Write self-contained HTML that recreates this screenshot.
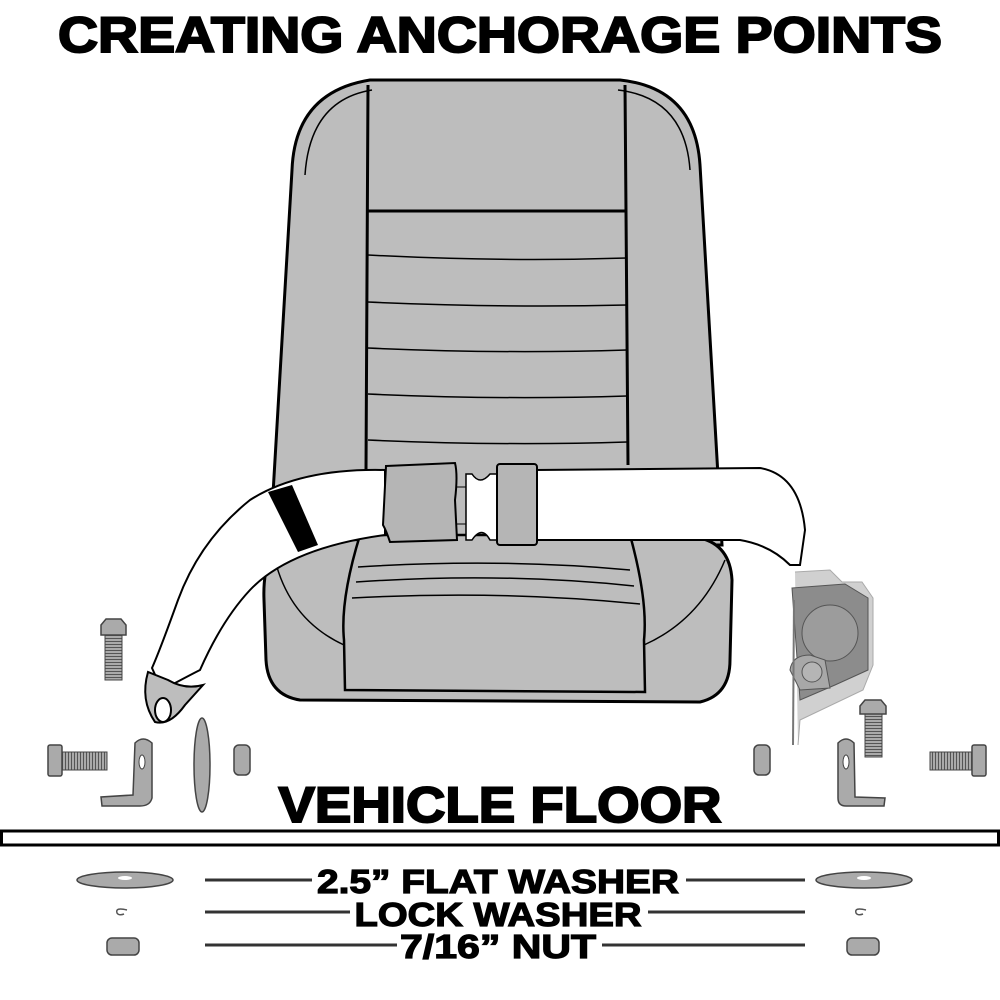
<!DOCTYPE html>
<html><head><style>body{margin:0;background:#fff}svg{display:block}</style></head><body>
<svg width="1000" height="1000" viewBox="0 0 1000 1000" xmlns="http://www.w3.org/2000/svg" font-family="Liberation Sans, sans-serif">
<defs>
<pattern id="thr" width="4" height="3" patternUnits="userSpaceOnUse"><rect width="4" height="3" fill="#aaa"/><rect y="2" width="4" height="1" fill="#555"/></pattern>
<pattern id="thrv" width="3" height="4" patternUnits="userSpaceOnUse"><rect width="3" height="4" fill="#aaa"/><rect x="2" width="1" height="4" fill="#555"/></pattern>
</defs>
<text x="500" y="52" text-anchor="middle" font-size="50" font-weight="bold" stroke="#000" stroke-width="2" textLength="884" lengthAdjust="spacingAndGlyphs">CREATING ANCHORAGE POINTS</text>
<!-- seat back -->
<path d="M292 170 Q295 92 370 80 L620 80 Q695 88 700 165 L722 545 L270 545 Z" fill="#bdbdbd" stroke="#000" stroke-width="3"/>
<path d="M305 175 Q310 100 372 90 M618 90 Q685 98 690 170" fill="none" stroke="#000" stroke-width="1.5"/>
<path d="M368 85 L366 470 M625 85 L628 465" stroke="#000" stroke-width="3"/>
<path d="M368 211 L627 211" stroke="#000" stroke-width="3"/>
<g fill="none" stroke="#000" stroke-width="1.5">
<path d="M368 255 Q500 262 627 258"/><path d="M368 302 Q500 308 627 305"/><path d="M368 348 Q500 354 627 350"/><path d="M368 394 Q500 400 627 396"/><path d="M368 440 Q500 446 627 442"/>
</g>
<!-- cushion -->
<path d="M290 540 Q262 550 264 600 L266 660 Q268 695 300 700 L700 702 Q730 695 730 660 L732 580 Q730 545 700 538 Z" fill="#bdbdbd" stroke="#000" stroke-width="3"/>
<path d="M360 535 Q340 600 344 640 L345 690 L645 692 L644 640 Q648 600 630 535 Z" fill="#bdbdbd" stroke="#000" stroke-width="2.5"/>
<g fill="none" stroke="#000" stroke-width="1.5">
<path d="M358 567 Q500 558 630 570"/><path d="M356 582 Q500 572 634 586"/><path d="M352 598 Q500 590 640 604"/>
<path d="M344 645 Q290 620 275 560"/><path d="M644 645 Q700 620 725 560"/>
</g>
<!-- belt left -->
<path d="M385 470 Q300 468 250 500 Q200 540 178 600 Q160 650 152 668 L162 690 Q190 675 200 670 Q222 620 250 590 Q290 548 385 535 Z" fill="#fff" stroke="#000" stroke-width="2"/>
<path d="M268 492 L292 485 L318 545 L298 552 Z" fill="#000"/>
<path d="M148 672 Q140 700 155 722 Q170 726 185 705 L203 685 Q185 690 168 680 Z" fill="#bdbdbd" stroke="#000" stroke-width="2"/>
<ellipse cx="163" cy="710" rx="8" ry="12" fill="#fff" stroke="#000" stroke-width="2"/>
<!-- belt right -->
<path d="M535 470 L760 468 Q800 475 805 530 L800 565 L790 565 Q770 545 740 540 L535 540 Z" fill="#fff" stroke="#000" stroke-width="2"/>
<!-- buckle -->
<rect x="455" y="487" width="45" height="37" fill="#bdbdbd" stroke="#000" stroke-width="1"/>
<path d="M472 474 Q480 486 490 474 L498 474 L498 540 L490 540 Q482 525 472 540 L466 540 L466 474 Z" fill="#fff" stroke="#000" stroke-width="1.5"/>
<path d="M386 466 L455 463 Q458 475 455 500 L457 540 L390 542 Q386 530 383 525 Z" fill="#b5b5b5" stroke="#000" stroke-width="2"/>
<rect x="497" y="464" width="40" height="81" rx="3" fill="#b5b5b5" stroke="#000" stroke-width="2"/>
<!-- retractor -->
<path d="M795 572 L830 570 L842 582 L862 582 L873 598 L873 665 L863 690 L800 720 L798 745" fill="#d0d0d0" stroke="#aaa" stroke-width="1"/>
<path d="M792 588 L845 584 L868 598 L868 670 L835 685 L800 700 Z" fill="#8c8c8c" stroke="#555"/>
<circle cx="830" cy="633" r="28" fill="#9c9c9c" stroke="#555"/>
<path d="M790 670 Q792 655 810 655 L825 660 L830 688 L800 690 Z" fill="#a8a8a8" stroke="#555"/>
<circle cx="812" cy="672" r="10" fill="#b5b5b5" stroke="#555"/>
<line x1="794" y1="600" x2="793" y2="745" stroke="#777" stroke-width="2"/>
<!-- hardware left -->
<rect x="105" y="632" width="17" height="48" fill="url(#thr)" stroke="#444"/>
<path d="M101 625 L106 619 L121 619 L126 625 L126 635 L101 635 Z" fill="#aaa" stroke="#444" stroke-width="1.5"/>
<rect x="60" y="752" width="47" height="18" fill="url(#thrv)" stroke="#444"/>
<rect x="48" y="745" width="14" height="31" rx="2" fill="#aaa" stroke="#444" stroke-width="1.5"/>
<path d="M135 743 Q143 735 152 743 L152 798 Q150 806 140 806 L102 806 L101 797 L133 795 Z" fill="#aaa" stroke="#444" stroke-width="1.5"/>
<ellipse cx="142" cy="762" rx="3" ry="7" fill="#fff" stroke="#444"/>
<ellipse cx="202" cy="765" rx="8" ry="47" fill="#aaa" stroke="#444" stroke-width="1.5"/>
<rect x="234" y="745" width="16" height="30" rx="5" fill="#aaa" stroke="#444" stroke-width="1.5"/>
<!-- hardware right -->
<rect x="754" y="745" width="16" height="30" rx="5" fill="#aaa" stroke="#444" stroke-width="1.5"/>
<path d="M838 743 Q846 735 854 743 L855 797 L885 798 L884 806 L846 806 Q838 806 838 798 Z" fill="#aaa" stroke="#444" stroke-width="1.5"/>
<ellipse cx="846" cy="762" rx="3" ry="7" fill="#fff" stroke="#444"/>
<rect x="865" y="712" width="17" height="45" fill="url(#thr)" stroke="#444"/>
<path d="M860 706 L865 700 L881 700 L886 706 L886 714 L860 714 Z" fill="#aaa" stroke="#444" stroke-width="1.5"/>
<rect x="930" y="752" width="45" height="18" fill="url(#thrv)" stroke="#444"/>
<rect x="972" y="745" width="14" height="31" rx="2" fill="#aaa" stroke="#444" stroke-width="1.5"/>
<!-- floor -->
<text x="500" y="822" text-anchor="middle" font-size="50" font-weight="bold" stroke="#000" stroke-width="2" textLength="443" lengthAdjust="spacingAndGlyphs">VEHICLE FLOOR</text>
<rect x="1.5" y="831" width="997" height="14" fill="#fff" stroke="#000" stroke-width="3"/>
<!-- legend -->
<g stroke="#333" stroke-width="3">
<line x1="205" y1="880" x2="312" y2="880"/><line x1="686" y1="880" x2="805" y2="880"/>
<line x1="205" y1="912" x2="350" y2="912"/><line x1="648" y1="912" x2="805" y2="912"/>
<line x1="205" y1="945" x2="397" y2="945"/><line x1="602" y1="945" x2="805" y2="945"/>
</g>
<g font-weight="bold" text-anchor="middle" font-size="33" stroke="#000" stroke-width="1.2">
<text x="498" y="893" textLength="362" lengthAdjust="spacingAndGlyphs">2.5” FLAT WASHER</text>
<text x="498" y="926" textLength="287" lengthAdjust="spacingAndGlyphs">LOCK WASHER</text>
<text x="498" y="958" textLength="196" lengthAdjust="spacingAndGlyphs">7/16” NUT</text>
</g>
<g fill="#aaa" stroke="#444" stroke-width="1.5">
<ellipse cx="125" cy="880" rx="48" ry="8"/><ellipse cx="864" cy="880" rx="48" ry="8"/>
<rect x="107" y="938" width="32" height="17" rx="5"/><rect x="847" y="938" width="32" height="17" rx="5"/>
</g>
<ellipse cx="125" cy="878" rx="7" ry="2" fill="#fff"/><ellipse cx="864" cy="878" rx="7" ry="2" fill="#fff"/>
<path d="M127 910 Q115 907 117 913 Q119 916 124 914" fill="none" stroke="#555" stroke-width="1.5"/>
<path d="M866 910 Q854 907 856 913 Q858 916 863 914" fill="none" stroke="#555" stroke-width="1.5"/>
</svg>
</body></html>
